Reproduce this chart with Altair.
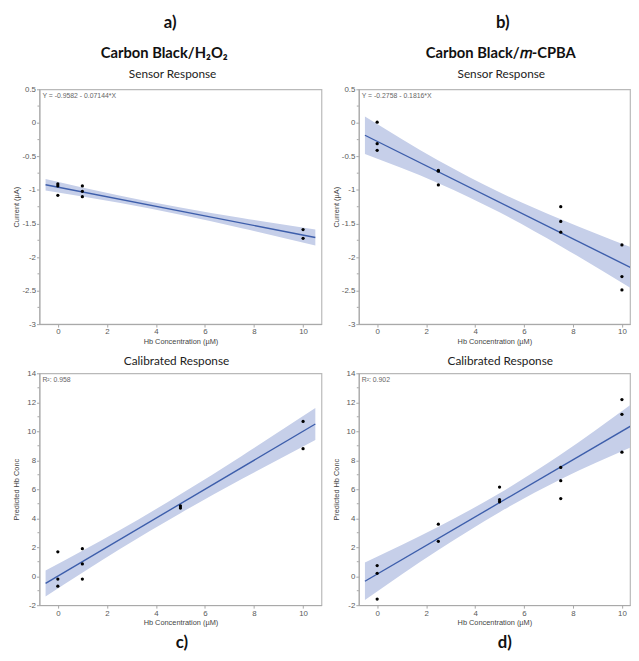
import altair as alt
import pandas as pd

# ---------------- data ----------------
# a) Carbon Black/H2O2 - Sensor Response
A_X = [0, 0, 0, 1, 1, 1, 10, 10]
A_Y = [-0.91, -0.94, -1.08, -0.94, -1.02, -1.10, -1.59, -1.72]
# b) Carbon Black/m-CPBA - Sensor Response
B_X = [0, 0, 0, 2.5, 2.5, 2.5, 7.5, 7.5, 7.5, 10, 10, 10]
B_Y = [0.01, -0.31, -0.41, -0.71, -0.72, -0.925, -1.25, -1.47, -1.63, -1.82, -2.29, -2.49]
# c) Carbon Black/H2O2 - Calibrated Response
C_X = [0, 0, 0, 1, 1, 1, 5, 5, 10, 10]
C_Y = [1.68, -0.2, -0.69, 1.9, 0.85, -0.2, 4.85, 4.7, 10.68, 8.8]
# d) Carbon Black/m-CPBA - Calibrated Response
D_X = [0, 0, 0, 2.5, 2.5, 5, 5, 5, 7.5, 7.5, 7.5, 10, 10, 10]
D_Y = [0.73, 0.2, -1.58, 3.59, 2.41, 6.15, 5.28, 5.13, 7.5, 6.59, 5.36, 12.19, 11.17, 8.56]

# fitted lines (end points) and confidence bands
FIT_X = [-0.5, 10.5]
A_FIT = [-0.9225, -1.7083]
B_FIT = [-0.185, -2.1826]
C_FIT = [-0.5, 10.5]
D_FIT = [-0.35, 10.5]

BAND_X = [-0.5, 2.5, 5, 7.5, 10.5]
A_LO = [-1.0075, -1.192, -1.370, -1.571, -1.828]
A_HI = [-0.8375, -1.082, -1.260, -1.417, -1.588]
B_LO = [-0.465, -0.90, -1.334, -1.838, -2.493]
B_HI = [0.095, -0.56, -1.034, -1.438, -1.873]
C_LO = [-1.4, 1.85, 4.35, 6.7, 9.4]
C_HI = [0.4, 3.15, 5.65, 8.3, 11.6]
D_LO = [-1.65, 1.81, 4.42, 6.69, 9.0]
D_HI = [0.95, 3.41, 5.72, 8.39, 12.0]

# axis ticks
X_TICKS = [0, 2, 4, 6, 8, 10]
SENSOR_TICKS = [0.5, 0, -0.5, -1, -1.5, -2, -2.5, -3]
SENSOR_MINOR = [0.25, -0.25, -0.75, -1.25, -1.75, -2.25, -2.75]
CAL_TICKS = [14, 12, 10, 8, 6, 4, 2, 0, -2]
CAL_MINOR = [13, 11, 9, 7, 5, 3, 1, -1]

NOTES = ["Y = -0.9582 - 0.07144*X", "Y = -0.2758 - 0.1816*X", "R\u00b2: 0.958", "R\u00b2: 0.902"]

# ---------------- styling ----------------
LINE = "#3d5eab"
BAND = "#c6cfe9"
AXIS = "#a6a6a6"
LBL = "#595959"
SANS = "Liberation Sans"
TFONT = "Lato"


def panel(xs, ys, fit_y, lo, hi, xdom, ydom, yticks, minor, ytitle, note, w, h,
          title, toff, tdx):
    xsc = alt.Scale(domain=xdom, nice=False, zero=False)
    ysc = alt.Scale(domain=ydom, nice=False, zero=False)
    xax = alt.Axis(values=X_TICKS, tickCount=20, title="Hb Concentration (\u00b5M)",
                   labelOverlap=False, labelExpr="'' + datum.value")
    yax = alt.Axis(values=yticks, tickCount=30, title=ytitle, titleX=-23, titleBaseline="middle",
                   labelOverlap=False, labelExpr="'' + datum.value")
    band = alt.Chart(pd.DataFrame({"x": BAND_X, "lo": lo, "hi": hi})).mark_area(
        color=BAND, opacity=1, interpolate="monotone", clip=True
    ).encode(x=alt.X("x:Q", scale=xsc, axis=xax), y=alt.Y("lo:Q", scale=ysc, axis=yax), y2="hi:Q")
    line = alt.Chart(pd.DataFrame({"x": FIT_X, "y": fit_y})).mark_line(
        color=LINE, strokeWidth=1.4, clip=True
    ).encode(x="x:Q", y="y:Q")
    dots = alt.Chart(pd.DataFrame({"x": xs, "y": ys})).mark_circle(
        color="black", size=11, opacity=1
    ).encode(x="x:Q", y="y:Q")
    mt = alt.Chart(pd.DataFrame({"y": minor})).mark_rule(color=AXIS, strokeWidth=1).encode(
        x=alt.value(-2), x2=alt.value(0), y="y:Q"
    )
    txt = alt.Chart(pd.DataFrame({"t": [note]})).mark_text(
        align="left", baseline="middle", font=SANS, fontSize=7, color="#666"
    ).encode(x=alt.value(3), y=alt.value(7), text="t:N")
    return alt.layer(band, line, dots, mt, txt).properties(
        width=w, height=h,
        title=alt.TitleParams(title, font=TFONT, fontSize=12, fontWeight="normal",
                              color="#222", offset=toff, anchor="middle", frame="group", dx=tdx),
    )


W_L, W_R = 287, 276
H_T, H_B = 239, 236
XD_L = [-0.75, 10.75]
XD_R = [-0.75, 10.33]

pa = panel(A_X, A_Y, A_FIT, A_LO, A_HI, XD_L, [-3, 0.5], SENSOR_TICKS, SENSOR_MINOR,
           "Current (\u00b5A)", NOTES[0], W_L, H_T, "Sensor Response", 4, -8)
pb = panel(B_X, B_Y, B_FIT, B_LO, B_HI, XD_R, [-3, 0.5], SENSOR_TICKS, SENSOR_MINOR,
           "Current (\u00b5A)", NOTES[1], W_R, H_T, "Sensor Response", 4, 7)
pc = panel(C_X, C_Y, C_FIT, C_LO, C_HI, XD_L, [-2, 14], CAL_TICKS, CAL_MINOR,
           "Predicted Hb Conc", NOTES[2], W_L, H_B, "Calibrated Response", 1, -4)
pd_ = panel(D_X, D_Y, D_FIT, D_LO, D_HI, XD_R, [-2, 14], CAL_TICKS, CAL_MINOR,
            "Predicted Hb Conc", NOTES[3], W_R, H_B, "Calibrated Response", 1, 6)


def tp(text, size, offset, dx, orient="top"):
    return alt.TitleParams(text, font=TFONT, fontSize=size, fontWeight="bold", color="#111",
                           offset=offset, anchor="middle", dx=dx, orient=orient)


wa = alt.vconcat(alt.vconcat(pa, title=tp("Carbon Black/H\u2082O\u2082", 15, 7, -3)),
                 title=tp("a)", 17, 15, 3))
wb = alt.vconcat(alt.vconcat(pb, title=tp("Carbon Black/\U0001D45A-CPBA", 15, 7, 20)),
                 title=tp("b)", 17, 15, 22))
wc = alt.vconcat(pc, title=tp("c)", 17, 8, 15, "bottom"))
wd = alt.vconcat(pd_, title=tp("d)", 17, 8, 24, "bottom"))

chart = alt.vconcat(
    alt.hconcat(wa, wb, spacing=9),
    alt.hconcat(wc, wd, spacing=9),
    spacing=8,
).properties(
    padding={"left": 4, "top": 0, "right": 0, "bottom": 0},
    background="white",
).configure_view(
    stroke="#b9b9b9", strokeWidth=1.2
).configure_axis(
    labelFont=SANS, labelFontSize=8, labelColor=LBL, titleFont=SANS, titleFontSize=7.5,
    titleFontWeight="normal", titleColor="#444", tickColor=AXIS, tickSize=3, tickWidth=1,
    domainColor=AXIS, grid=False, labelPadding=1, titlePadding=2
)

chart.save("out.html", embed_options={"renderer": "svg", "actions": False})
